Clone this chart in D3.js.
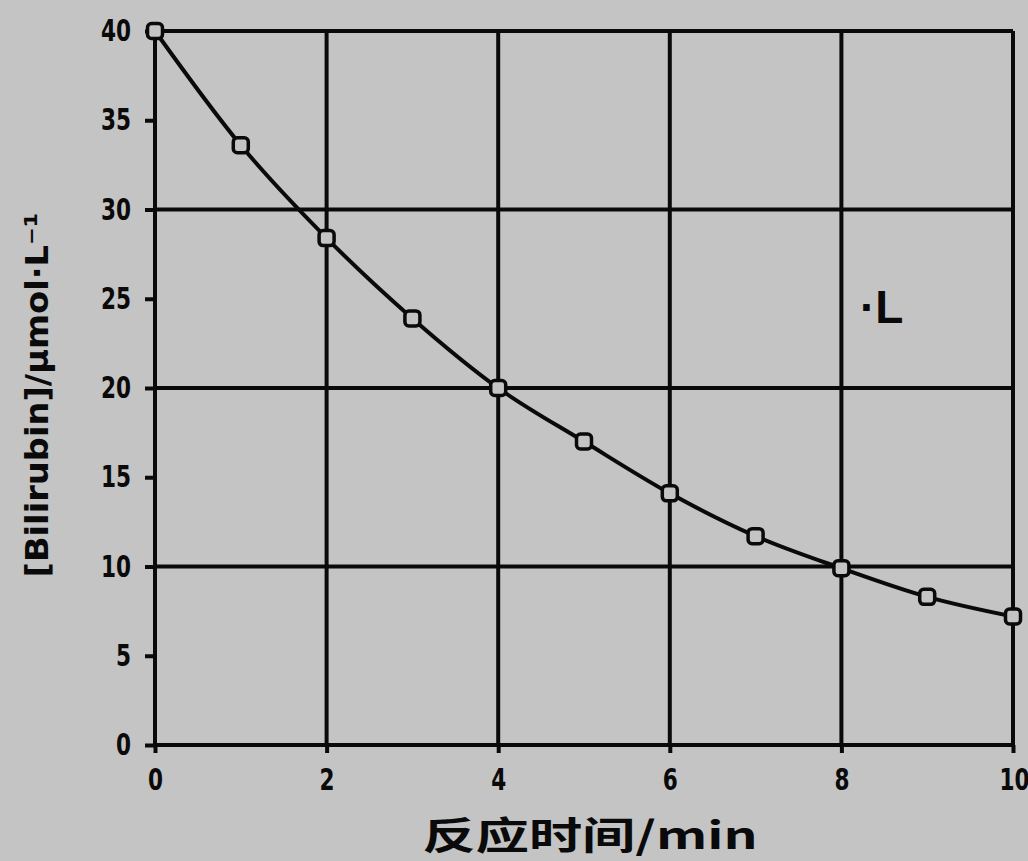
<!DOCTYPE html>
<html>
<head>
<meta charset="utf-8">
<script src="https://cdn.jsdelivr.net/npm/d3@7"></script>
<style>
  html, body { margin: 0; padding: 0; background: #c4c4c4; }
  svg { display: block; }
</style>
</head>
<body>
<svg id="chart" width="1028" height="861"></svg>
<script>
// ---- data ----
const times = [0, 1, 2, 3, 4, 5, 6, 7, 8, 9, 10];
const concentrations = [40, 33.6, 28.4, 23.9, 20, 17.0, 14.1, 11.7, 9.9, 8.3, 7.2];
const xTicks = [0, 2, 4, 6, 8, 10];
const yTicks = [0, 5, 10, 15, 20, 25, 30, 35, 40];
const xGrid = [0, 2, 4, 6, 8, 10];
const yGrid = [0, 10, 20, 30, 40];
const xTitle = "反应时间/min";
const yTitle = "[Bilirubin]/μmol·L⁻¹";
const annotation = "·L";

// ---- layout ----
const W = 1028, H = 861;
const svg = d3.select("#chart");
svg.append("rect").attr("width", W).attr("height", H).attr("fill", "#c4c4c4");

const x = d3.scaleLinear().domain([0, 10]).range([155, 1013]);
const y = d3.scaleLinear().domain([0, 40]).range([745, 31]);
const ink = "#0a0a0a";
const tickFont = "'DejaVu Sans', sans-serif";
const squeeze = 0.72;

// grid
svg.append("g").selectAll("line").data(xGrid).join("line")
  .attr("x1", d => x(d)).attr("x2", d => x(d))
  .attr("y1", y(40)).attr("y2", y(0))
  .attr("stroke", ink).attr("stroke-width", 4);
svg.append("g").selectAll("line").data(yGrid).join("line")
  .attr("x1", x(0)).attr("x2", x(10))
  .attr("y1", d => y(d)).attr("y2", d => y(d))
  .attr("stroke", ink).attr("stroke-width", 4);

// axes
const yAxis = svg.append("g").attr("transform", `translate(${x(0)},0)`)
  .call(d3.axisLeft(y).tickValues(yTicks).tickSize(10).tickPadding(14));
const xAxis = svg.append("g").attr("transform", `translate(0,${y(0)})`)
  .call(d3.axisBottom(x).tickValues(xTicks).tickSize(8).tickPadding(16));
[xAxis, yAxis].forEach(a => {
  a.select(".domain").remove();
  a.selectAll(".tick line").attr("stroke", ink).attr("stroke-width", 4);
  a.selectAll(".tick text").attr("fill", ink)
    .style("font-family", tickFont).style("font-size", "30px").style("font-weight", "bold");
});
// narrow the tick digits like the scanned original
yAxis.selectAll(".tick text")
  .attr("x", -24 / squeeze).attr("transform", `scale(${squeeze},1)`);
xAxis.selectAll(".tick text")
  .attr("transform", `scale(${squeeze},1)`);
// keep the last x label inside the picture
xAxis.selectAll(".tick text").filter(d => d === 10).attr("text-anchor", "end").attr("x", 16 / squeeze);

// curve
const pts = times.map((t, i) => [t, concentrations[i]]);
svg.append("path").datum(pts)
  .attr("fill", "none").attr("stroke", ink).attr("stroke-width", 4)
  .attr("d", d3.line().x(d => x(d[0])).y(d => y(d[1])).curve(d3.curveMonotoneX));

// markers
svg.append("g").selectAll("rect").data(pts).join("rect")
  .attr("x", d => x(d[0]) - 7.5).attr("y", d => y(d[1]) - 7.5)
  .attr("width", 15).attr("height", 15).attr("rx", 4)
  .attr("fill", "#c4c4c4").attr("stroke", ink).attr("stroke-width", 3.5);

// titles
svg.append("text")
  .attr("x", 590).attr("y", 849).attr("text-anchor", "middle")
  .attr("textLength", 335).attr("lengthAdjust", "spacingAndGlyphs")
  .style("font-family", "'Noto Sans CJK SC', sans-serif").style("font-size", "38px")
  .style("font-weight", "bold").attr("fill", ink)
  .text(xTitle);

svg.append("text")
  .attr("transform", "translate(48,395) rotate(-90)").attr("text-anchor", "middle")
  .attr("textLength", 365).attr("lengthAdjust", "spacingAndGlyphs")
  .style("font-family", tickFont).style("font-size", "32px").style("font-weight", "bold")
  .attr("fill", ink)
  .text(yTitle);

// annotation
svg.append("text")
  .attr("x", 860).attr("y", 323)
  .style("font-family", "'Liberation Sans', Arial, sans-serif").style("font-size", "46px")
  .style("font-weight", "bold")
  .attr("fill", ink)
  .text(annotation);
</script>
</body>
</html>
